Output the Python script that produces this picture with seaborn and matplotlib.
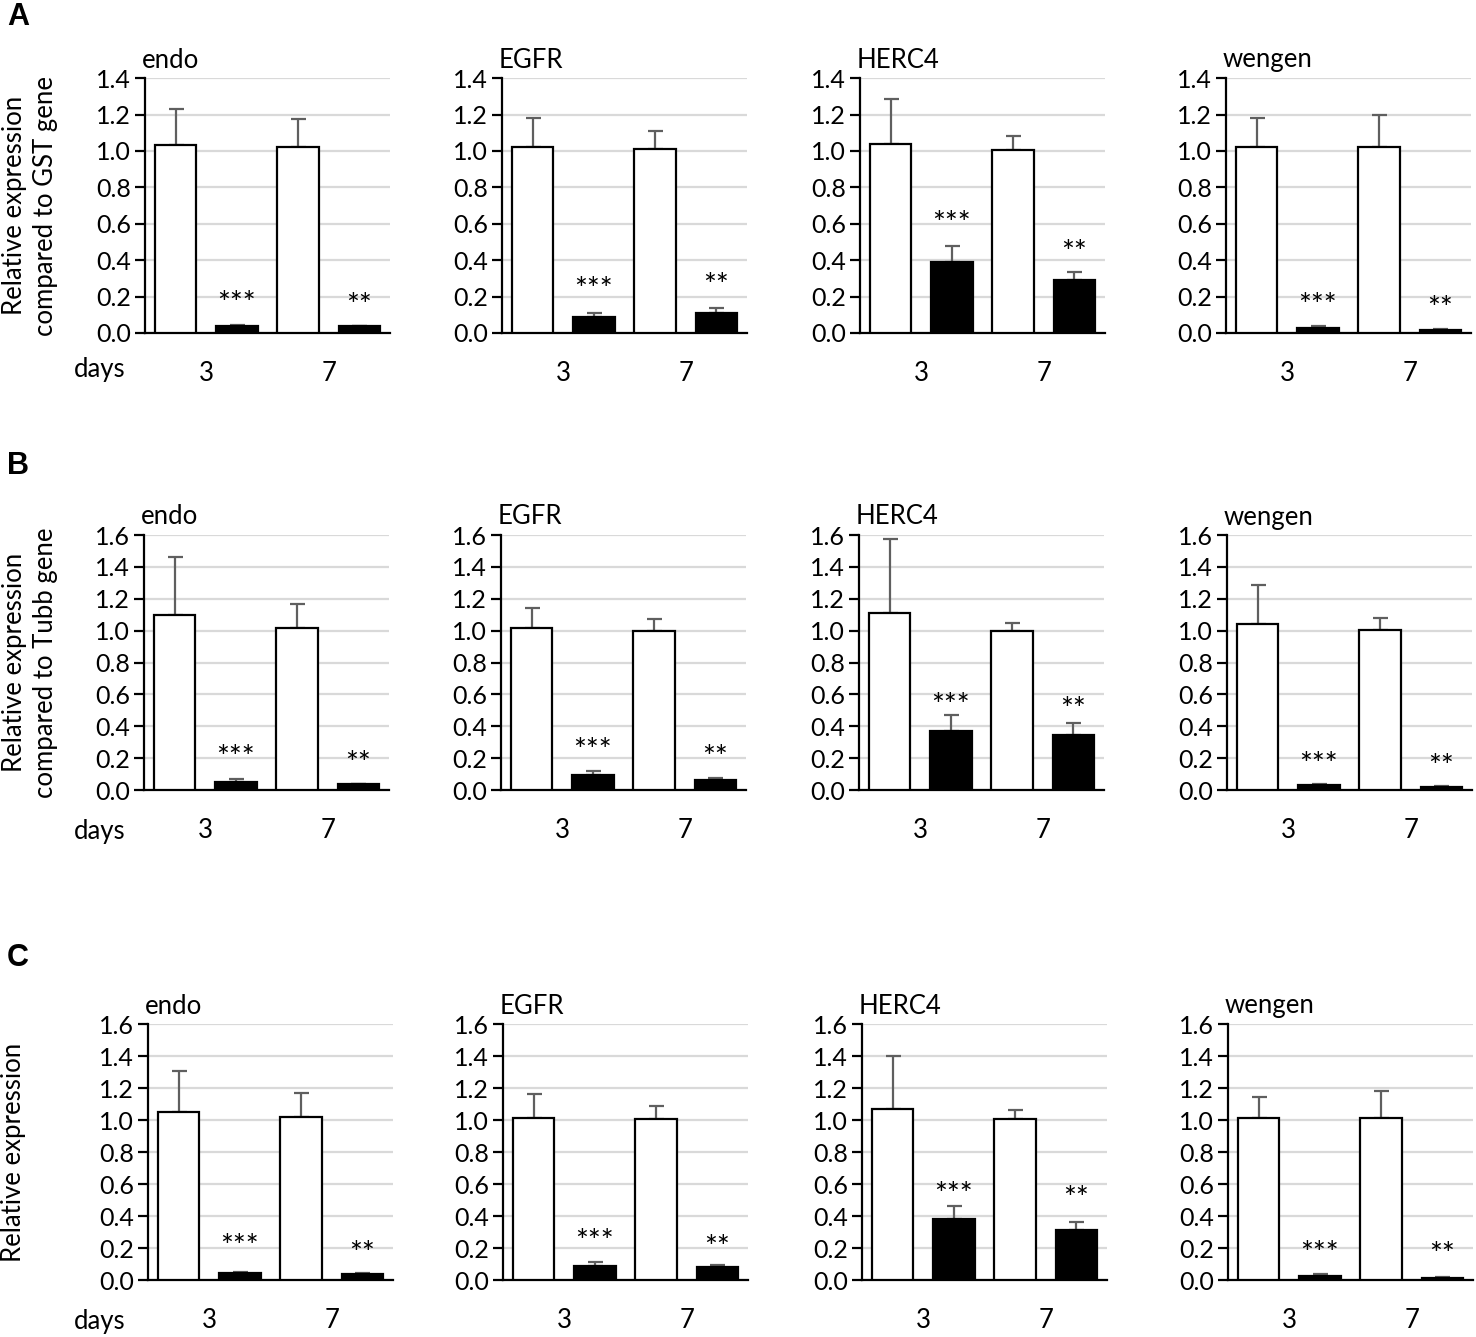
import numpy as np
import pandas as pd
import matplotlib
matplotlib.use("Agg")
import matplotlib.pyplot as plt
import seaborn as sns
from matplotlib.ticker import FormatStrFormatter, MultipleLocator

# ---------------- data ----------------
genes = ["endo", "EGFR", "HERC4", "wengen"]
day_labels = ["3", "7"]
panel_letters = ["A", "B", "C"]
row_ylabels = ["Relative expression\ncompared to GST gene",
               "Relative expression\ncompared to Tubb gene",
               "Relative expression"]
row_ymax = [1.4, 1.6, 1.6]

# per gene: [day 3, day 7]; *_top = top of the (upper) error bar
A_ctrl = [[1.03, 1.02], [1.02, 1.01], [1.04, 1.005], [1.02, 1.02]]
A_ctrl_top = [[1.23, 1.175], [1.18, 1.11], [1.285, 1.084], [1.18, 1.20]]
A_kd = [[0.036, 0.036], [0.086, 0.108], [0.39, 0.29], [0.03, 0.018]]
A_kd_top = [[0.044, 0.040], [0.108, 0.137], [0.48, 0.336], [0.038, 0.020]]
A_star3 = [0.21, 0.285, 0.65, 0.20]
A_star7 = [0.20, 0.31, 0.49, 0.18]

B_ctrl = [[1.098, 1.014], [1.014, 1.001], [1.114, 1.001], [1.043, 1.003]]
B_ctrl_top = [[1.464, 1.167], [1.145, 1.076], [1.573, 1.047], [1.286, 1.078]]
B_kd = [[0.048, 0.036], [0.092, 0.062], [0.373, 0.346], [0.031, 0.019]]
B_kd_top = [[0.067, 0.040], [0.119, 0.075], [0.468, 0.423], [0.037, 0.023]]
B_star3 = [0.26, 0.30, 0.585, 0.215]
B_star7 = [0.22, 0.255, 0.56, 0.20]

C_ctrl = [[1.05, 1.017], [1.015, 1.006], [1.067, 1.004], [1.013, 1.015]]
C_ctrl_top = [[1.31, 1.17], [1.16, 1.09], [1.40, 1.065], [1.146, 1.18]]
C_kd = [[0.042, 0.037], [0.09, 0.083], [0.38, 0.315], [0.027, 0.015]]
C_kd_top = [[0.048, 0.042], [0.115, 0.096], [0.46, 0.365], [0.035, 0.019]]
C_star3 = [0.26, 0.295, 0.585, 0.22]
C_star7 = [0.22, 0.255, 0.56, 0.21]

stars_day3 = "***"
stars_day7 = "**"

rows = [
    (A_ctrl, A_ctrl_top, A_kd, A_kd_top, A_star3, A_star7),
    (B_ctrl, B_ctrl_top, B_kd, B_kd_top, B_star3, B_star7),
    (C_ctrl, C_ctrl_top, C_kd, C_kd_top, C_star3, C_star7),
]

# ---------------- style ----------------
sns.set_theme(style="ticks")
plt.rcParams["font.family"] = ["Lato", "DejaVu Sans"]
FS = 18.5
TFS = 18
SFS = 22

W, H = 1476, 1337
fig = plt.figure(figsize=(W / 100, H / 100), dpi=100)

row_tops = [78, 535, 1024]
row_bottoms = [333, 790, 1280]
row_lefts = [[145, 502, 860, 1226], [144, 501, 859, 1227], [148, 503, 862, 1228]]
ax_w = 245
days_y = [370, 831, 1321]
letter_y = [17, 466, 958]

for r, (ctrl, ctrl_top, kd, kd_top, s3, s7) in enumerate(rows):
    top, bot = row_tops[r], row_bottoms[r]
    for g, gene in enumerate(genes):
        left = row_lefts[r][g]
        ax = fig.add_axes([left / W, 1 - bot / H, ax_w / W, (bot - top) / H])
        slots = ["c3", "k3", "c7", "k7"]
        vals = [ctrl[g][0], kd[g][0], ctrl[g][1], kd[g][1]]
        tops = [ctrl_top[g][0], kd_top[g][0], ctrl_top[g][1], kd_top[g][1]]
        grp = ["control", "knockdown", "control", "knockdown"]
        df = pd.DataFrame({"slot": slots, "value": vals, "group": grp})
        sns.barplot(data=df, x="slot", y="value", hue="group", order=slots,
                    palette={"control": "white", "knockdown": "black"},
                    dodge=False, width=0.68, edgecolor="black", linewidth=1.6,
                    errorbar=None, legend=False, ax=ax, zorder=3)
        up = np.array(tops) - np.array(vals)
        ax.errorbar(np.arange(4), vals, yerr=[np.zeros(4), up], fmt="none",
                    ecolor="#5f5f5f", elinewidth=1.6, capsize=5.4, capthick=1.6,
                    zorder=2)
        ymax = row_ymax[r]
        ax.set_ylim(0, ymax + 0.0008)
        ax.set_xlim(-0.5, 3.5)
        ax.yaxis.set_major_locator(MultipleLocator(0.2))
        ax.yaxis.set_major_formatter(FormatStrFormatter("%.1f"))
        ax.set_xticks([0.5, 2.5])
        ax.set_xticklabels(day_labels)
        ax.set_xlabel("")
        ax.set_ylabel("")
        ax.yaxis.grid(True, color="#d9d9d9", linewidth=1.6)
        ax.set_axisbelow(True)
        for sp in ["top", "right"]:
            ax.spines[sp].set_visible(False)
        for sp in ["left", "bottom"]:
            ax.spines[sp].set_color("black")
            ax.spines[sp].set_linewidth(1.6)
        ax.tick_params(axis="y", length=7, width=1.6, color="black",
                       labelsize=TFS, pad=3, direction="out")
        ax.tick_params(axis="x", length=0, labelsize=FS, pad=20)
        for lab in ax.get_yticklabels() + ax.get_xticklabels():
            lab.set_color("black")
        ax.annotate(gene, xy=(0, 1), xycoords="axes fraction", xytext=(-3, 18),
                    textcoords="offset pixels", ha="left", va="center",
                    fontsize=FS, color="black")
        ax.annotate(stars_day3, xy=(1, s3[g]), xycoords="data", xytext=(0, -18),
                    textcoords="offset pixels", ha="center", va="baseline",
                    fontsize=SFS, color="black")
        ax.annotate(stars_day7, xy=(3, s7[g]), xycoords="data", xytext=(0, -18),
                    textcoords="offset pixels", ha="center", va="baseline",
                    fontsize=SFS, color="black")
    # row-level texts
    fig.text(100 / W, 1 - days_y[r] / H, "days", ha="center", va="center",
             fontsize=FS, color="black")
    fig.text(30 / W if r < 2 else 14 / W, 1 - (top + bot) / 2 / H, row_ylabels[r],
             rotation=90, ha="center", va="center", multialignment="center",
             fontsize=FS, linespacing=1.3, color="black")
    fig.text(18 / W, 1 - letter_y[r] / H, panel_letters[r], ha="center", va="center",
             fontsize=22, fontweight="bold", family=["Liberation Sans", "DejaVu Sans"],
             color="black")

fig.savefig("out.png", dpi=100, facecolor="white")
